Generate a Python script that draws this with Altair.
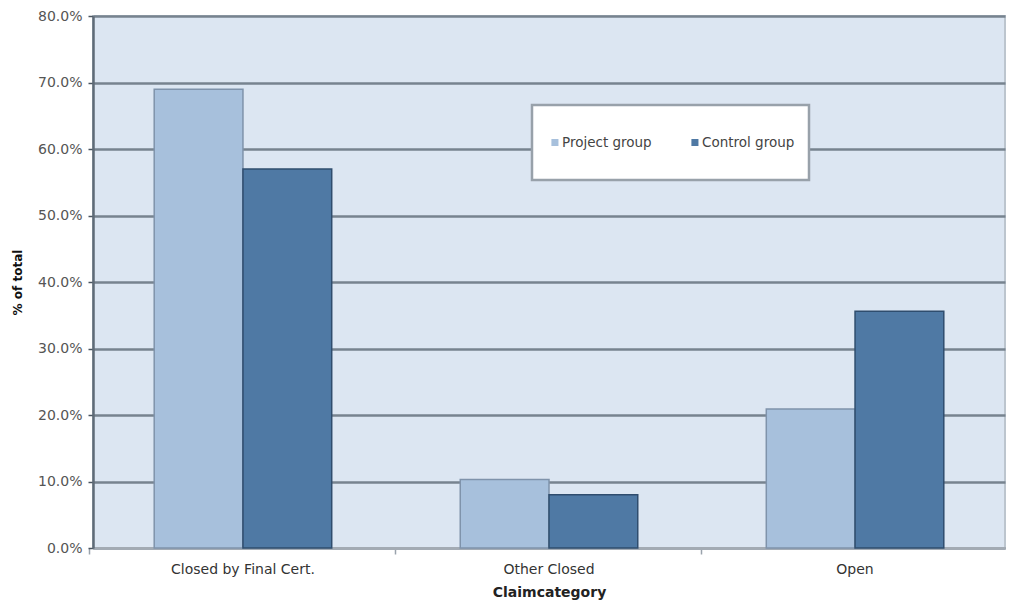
import altair as alt
import pandas as pd

categories = ["Closed by Final Cert.", "Other Closed", "Open"]
groups = ["Project group", "Control group"]
project_pct = [69.0, 10.3, 20.9]
control_pct = [57.0, 8.0, 35.6]
y_ticks = [0.0, 0.1, 0.2, 0.3, 0.4, 0.5, 0.6, 0.7, 0.8]

rows = []
for cat, p, c in zip(categories, project_pct, control_pct):
    rows.append({"category": cat, "group": groups[0], "share": p / 100})
    rows.append({"category": cat, "group": groups[1], "share": c / 100})
df = pd.DataFrame(rows)

fill_colors = ["#a7c0dc", "#4f79a4"]
edge_colors = ["#7f93ab", "#2f4d6e"]
FONT = "DejaVu Sans"

# small square marker placed left inside a taller invisible extent,
# so the legend box gets extra height around the entries
legend_symbol = "M-0.77,-0.15H-0.47V0.15H-0.77Z M0,-1L0,-1 M0,1L0,1"

bars = alt.Chart(df).mark_bar(strokeWidth=1.5).encode(
    x=alt.X(
        "category:N",
        sort=categories,
        scale=alt.Scale(paddingInner=0.42),
        axis=alt.Axis(
            title="Claimcategory",
            labelAngle=0,
            labelFont=FONT,
            labelFontSize=14,
            labelColor="#333333",
            labelPadding=8,
            ticks=True,
            tickSize=6,
            tickColor="#9aa3ac",
            tickWidth=1.5,
            bandPosition=-0.364,
            domainColor="#a3abb4",
            domainWidth=3,
            titleFont=FONT,
            titleFontSize=14,
            titleFontWeight="bold",
            titleColor="#222222",
            titlePadding=9,
        ),
    ),
    xOffset=alt.XOffset("group:N", sort=groups),
    y=alt.Y(
        "share:Q",
        scale=alt.Scale(domain=[0, 0.8], nice=False),
        axis=alt.Axis(
            title="% of total",
            values=y_ticks,
            format=".1%",
            labelFont=FONT,
            labelFontSize=14,
            labelColor="#555555",
            labelPadding=6,
            tickSize=5,
            tickColor="#4a5560",
            tickWidth=1.5,
            domainColor="#5f6b77",
            domainWidth=2.5,
            grid=True,
            gridColor="#77838f",
            gridWidth=2.4,
            titleFont=FONT,
            titleFontSize=12,
            titleFontWeight="bold",
            titleColor="#111111",
            titlePadding=13,
        ),
    ),
    color=alt.Color(
        "group:N",
        sort=groups,
        scale=alt.Scale(domain=groups, range=fill_colors),
        legend=alt.Legend(
            title=None,
            orient="none",
            legendX=439,
            legendY=89,
            direction="horizontal",
            symbolType=legend_symbol,
            symbolSize=2209,
            symbolStrokeWidth=0,
            labelOffset={"expr": "-31"},
            labelFont=FONT,
            labelFontSize=13.5,
            labelColor="#444444",
            columnPadding=34,
            padding=14,
            fillColor="#ffffff",
            strokeColor="#98a1aa",
        ),
    ),
    stroke=alt.Stroke(
        "group:N",
        sort=groups,
        scale=alt.Scale(domain=groups, range=edge_colors),
        legend=None,
    ),
)

chart = bars.properties(
    width=912,
    height=532,
    autosize=alt.AutoSizeParams(type="none"),
    padding={"left": 93, "top": 16, "right": 10, "bottom": 55},
    background="#ffffff",
).configure_view(
    fill="#dce6f2",
    stroke="#bcc5ce",
    strokeWidth=2,
).configure_legend(
    strokeWidth=2.5,
)

chart.save("out.html", embed_options={"renderer": "svg", "actions": False})
